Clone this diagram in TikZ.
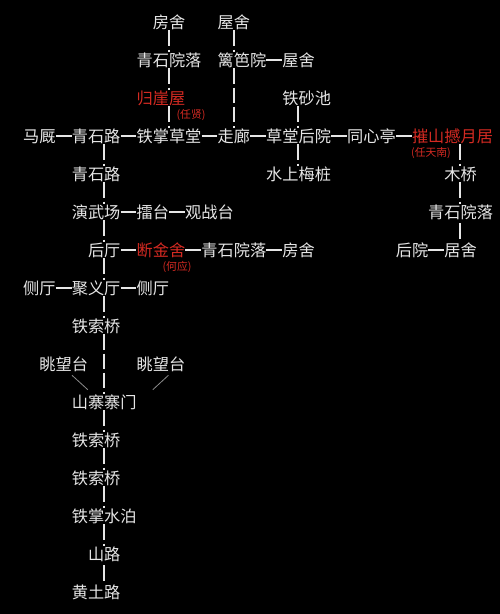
\documentclass[tikz,border=0pt]{standalone}
\usepackage{fontspec}
\newfontfamily\cjk{Noto Sans CJK SC}
\usepackage{tikz}
\definecolor{fg}{HTML}{E6E6E6}
\definecolor{hot}{HTML}{D42A22}
\definecolor{dim}{HTML}{8A8A8A}

\begin{document}
\begin{tikzpicture}
  [
    x=1pt, y=-1pt,
    place/.style = {anchor=west, text=fg, inner xsep=0pt, inner ysep=0pt,
                    text height=14.3pt, text depth=1.9pt,
                    font=\cjk\fontsize{16.2pt}{18pt}\selectfont},
    red/.style   = {place, text=hot},
    note/.style  = {text=hot, inner sep=0pt, font=\cjk\fontsize{10.8pt}{12pt}\selectfont},
    hbar/.style  = {draw=fg, line width=1.4pt},
    vbar/.style  = {draw=fg, line width=2pt, shorten <=3pt, shorten >=3pt,
                    dash pattern=on 15.4pt off 3.8pt},
    diag/.style  = {draw=dim, line width=0.8pt},
  ]

 \useasboundingbox (0,0) rectangle (500,614);
 \fill[black] (0,0) rectangle (500,614);

 % columns of the bars
 \coordinate (k5)  at (104,0);
 \coordinate (k9)  at (168.8,0);
 \coordinate (k13) at (233.6,0);
 \coordinate (k17) at (298.4,0);
 \coordinate (k27) at (460.4,0);

 % top
 \node [place] (FS1) at (152.6,22) {房舍};
 \node [place] (WS1) at (217.4,22) {屋舍};
 \node [place] (QY1) at (136.4,60) {青石院落};
 \node [place] (LBY) at (217.4,60) {篱笆院};
 \node [place] (WS2) at (282.2,60) {屋舍};
 \node [red]   (GYW) at (136.4,98) {归崖屋};
 \node [place] (TSC) at (282.2,98) {铁砂池};
 \node [note]  (GYWn) at (191,115) {(任贤)};

 % main row
 \node [place] (MJ)  at (23,136)    {马厩};
 \node [place] (QL1) at (71.6,136)  {青石路};
 \node [place] (TZ)  at (136.4,136) {铁掌草堂};
 \node [place] (ZL)  at (217.4,136) {走廊};
 \node [place] (HY1) at (266,136)   {草堂后院};
 \node [place] (TX)  at (347,136)   {同心亭};
 \node [red]   (CS)  at (411.8,136) {摧山撼月居};
 \node [note]  (CSn) at (431,153)   {(任天南)};

 \node [place] (QL2) at (71.6,174)  {青石路};
 \node [place] (SM)  at (266,174)   {水上梅桩};
 \node [place] (MQ)  at (444.2,174) {木桥};

 \node [place] (YW)  at (71.6,212)  {演武场};
 \node [place] (LT)  at (136.4,212) {擂台};
 \node [place] (GZ)  at (185,212)   {观战台};
 \node [place] (QY2) at (428,212)   {青石院落};

 \node [place] (HT)  at (87.8,250)  {后厅};
 \node [red]   (DJ)  at (136.4,250) {断金舍};
 \node [place] (QY3) at (201.2,250) {青石院落};
 \node [place] (FS2) at (282.2,250) {房舍};
 \node [place] (HY2) at (395.6,250) {后院};
 \node [place] (JS)  at (444.2,250) {居舍};
 \node [note]  (DJn) at (177,267)   {(何应)};

 \node [place] (CT1) at (23,288)    {侧厅};
 \node [place] (JY)  at (71.6,288)  {聚义厅};
 \node [place] (CT2) at (136.4,288) {侧厅};

 % down to the gate
 \node [place] (SQ1) at (71.6,326)  {铁索桥};
 \node [place] (TW1) at (39.2,364)  {眺望台};
 \node [place] (TW2) at (136.4,364) {眺望台};
 \node [place] (SZ)  at (71.6,402)  {山寨寨门};
 \node [place] (SQ2) at (71.6,440)  {铁索桥};
 \node [place] (SQ3) at (71.6,478)  {铁索桥};
 \node [place] (SB)  at (71.6,516)  {铁掌水泊};
 \node [place] (SL)  at (87.8,554)  {山路};
 \node [place] (HL)  at (71.6,592)  {黄土路};

 \draw[hbar]
  (LBY.east) -- (WS2.west)
  (MJ.east) -- (QL1.west)
  (QL1.east) -- (TZ.west)
  (TZ.east) -- (ZL.west)
  (ZL.east) -- (HY1.west)
  (HY1.east) -- (TX.west)
  (TX.east) -- (CS.west)
  (YW.east) -- (LT.west)
  (LT.east) -- (GZ.west)
  (HT.east) -- (DJ.west)
  (DJ.east) -- (QY3.west)
  (QY3.east) -- (FS2.west)
  (HY2.east) -- (JS.west)
  (CT1.east) -- (JY.west)
  (JY.east) -- (CT2.west);

 \draw[vbar]
  (FS1.south -| k9) -- (QY1.north -| k9)
  (QY1.south -| k9) -- (GYW.north -| k9)
  (GYW.south -| k9) -- (TZ.north -| k9)
  (WS1.south -| k13) -- (LBY.north -| k13)
  (LBY.south -| k13) -- (ZL.north -| k13)
  (TSC.south -| k17) -- (HY1.north -| k17)
  (HY1.south -| k17) -- (SM.north -| k17)
  (CS.south -| k27) -- (MQ.north -| k27)
  (MQ.south -| k27) -- (QY2.north -| k27)
  (QY2.south -| k27) -- (JS.north -| k27);
 \draw[vbar]
  (QL1.south -| k5) -- (QL2.north -| k5)
  (QL2.south -| k5) -- (YW.north -| k5)
  (YW.south -| k5) -- (HT.north -| k5)
  (HT.south -| k5) -- (JY.north -| k5)
  (JY.south -| k5) -- (SQ1.north -| k5)
  (SQ1.south -| k5) -- (SZ.north -| k5)
  (SZ.south -| k5) -- (SQ2.north -| k5)
  (SQ2.south -| k5) -- (SQ3.north -| k5)
  (SQ3.south -| k5) -- (SB.north -| k5)
  (SB.south -| k5) -- (SL.north -| k5)
  (SL.south -| k5) -- (HL.north -| k5);

 \draw[diag]
  ([xshift=-16.2pt,yshift=-3pt]TW1.south east) -- ([xshift=16.2pt,yshift=4pt]SZ.north west)
  ([xshift=7.5pt,yshift=-3pt]TW2.south) -- ([xshift=16pt,yshift=4pt]SZ.north east);

\end{tikzpicture}
\end{document}
